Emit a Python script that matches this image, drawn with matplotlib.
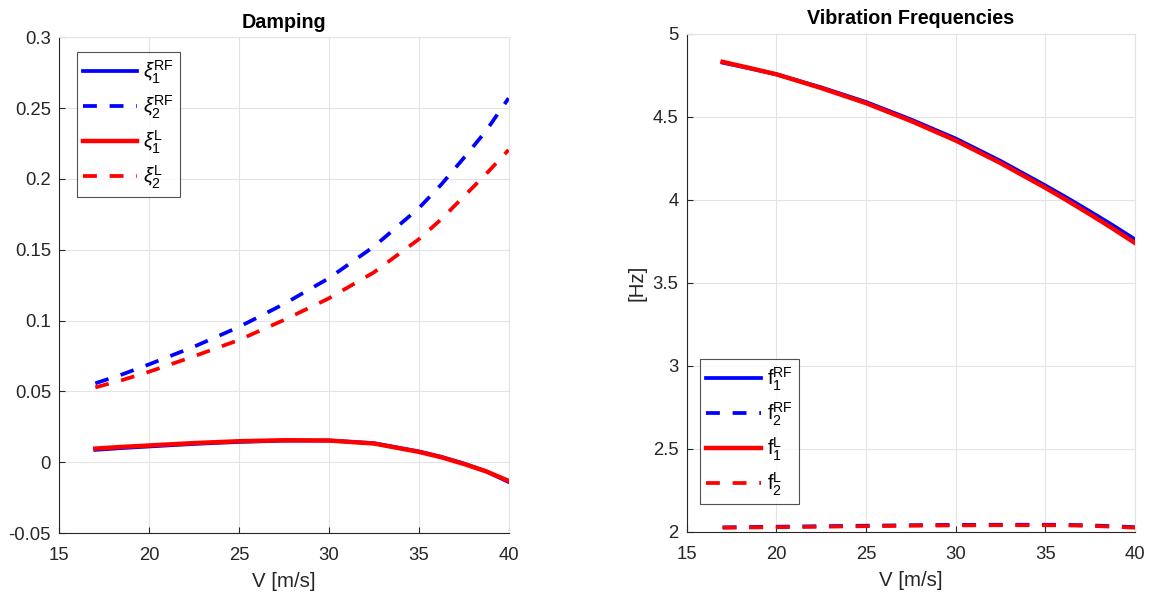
import matplotlib
matplotlib.use("Agg")
import matplotlib.pyplot as plt

plt.rcParams['font.family'] = ['Liberation Sans', 'DejaVu Sans']
plt.rcParams['mathtext.fontset'] = 'custom'
plt.rcParams['mathtext.rm'] = 'Liberation Sans'
plt.rcParams['mathtext.it'] = 'Liberation Sans:italic'

# Airspeed samples [m/s]
V = [17, 18.5, 20, 22.5, 25, 27.5, 30, 32.5, 35, 36.25, 37.5, 38.75, 40]

# Damping
xi1_RF = [0.0087, 0.0100, 0.0111, 0.0129, 0.0143, 0.0152, 0.0153, 0.0134, 0.0076, 0.0038, -0.0009, -0.0064, -0.0140]
xi2_RF = [0.0557, 0.0620, 0.0691, 0.0816, 0.0955, 0.1117, 0.1299, 0.1522, 0.1793, 0.1960, 0.2147, 0.2340, 0.2570]
xi1_L = [0.0096, 0.0108, 0.0118, 0.0135, 0.0148, 0.0155, 0.0153, 0.0132, 0.0073, 0.0035, -0.0012, -0.0065, -0.0132]
xi2_L = [0.0528, 0.0580, 0.0639, 0.0748, 0.0863, 0.1004, 0.1157, 0.1340, 0.1574, 0.1715, 0.1875, 0.2035, 0.2205]

# Frequencies [Hz]
f1_RF = [4.827, 4.793, 4.757, 4.678, 4.590, 4.485, 4.370, 4.235, 4.087, 4.010, 3.930, 3.848, 3.762]
f2_RF = [2.026, 2.028, 2.030, 2.033, 2.036, 2.039, 2.041, 2.042, 2.042, 2.041, 2.038, 2.033, 2.027]
f1_L = [4.832, 4.795, 4.757, 4.674, 4.583, 4.476, 4.358, 4.222, 4.073, 3.994, 3.912, 3.828, 3.740]
f2_L = [2.024, 2.0255, 2.027, 2.030, 2.033, 2.036, 2.038, 2.039, 2.039, 2.038, 2.035, 2.030, 2.024]

fig = plt.figure(figsize=(11.53, 5.96), dpi=100)
ax1 = fig.add_axes([0.0515, 0.1057, 0.3896, 0.8317])
ax2 = fig.add_axes([0.5956, 0.1079, 0.3888, 0.8351])

lw = 2.7
dash = (0, (3.7, 3.4))
TXT = '#262626'

def style(ax):
    ax.grid(True, color='#e3e3e3', linewidth=0.8)
    ax.set_axisbelow(True)
    for s in ['top', 'right']:
        ax.spines[s].set_color('#e3e3e3')
    for s in ['left', 'bottom']:
        ax.spines[s].set_color(TXT)
    ax.tick_params(direction='in', length=4, colors=TXT, labelsize=13.3,
                   top=False, right=False)
    ax.tick_params(axis='x', pad=10)
    ax.tick_params(axis='y', pad=6)
    ax.set_xlim(15, 40)
    ax.set_xticks([15, 20, 25, 30, 35, 40])
    ax.set_xlabel('V [m/s]', fontsize=14.7, color=TXT, labelpad=6)

def legend(ax, loc, anchor):
    leg = ax.legend(loc=loc, bbox_to_anchor=anchor, borderaxespad=0,
                    fontsize=14.5, frameon=True, fancybox=False,
                    edgecolor=TXT, handlelength=2.7, labelspacing=0.38,
                    handletextpad=0.3, borderpad=0.3)
    leg.get_frame().set_linewidth(0.8)
    return leg

ax1.plot(V, xi1_RF, color='blue', lw=lw, label=r'$\xi_1^{\mathrm{RF}}$')
ax1.plot(V, xi2_RF, color='blue', lw=lw, ls=dash, label=r'$\xi_2^{\mathrm{RF}}$')
ax1.plot(V, xi1_L, color='red', lw=lw + 0.5, label=r'$\xi_1^{\mathrm{L}}$')
ax1.plot(V, xi2_L, color='red', lw=lw, ls=dash, label=r'$\xi_2^{\mathrm{L}}$')
style(ax1)
ax1.set_ylim(-0.05, 0.3)
ax1.set_yticks([-0.05, 0, 0.05, 0.1, 0.15, 0.2, 0.25, 0.3])
ax1.set_yticklabels(['-0.05', '0', '0.05', '0.1', '0.15', '0.2', '0.25', '0.3'])
ax1.set_title('Damping', fontsize=14.2, fontweight='bold', pad=7, color='black')
legend(ax1, 'upper left', (0.039, 0.970))

ax2.plot(V, f1_RF, color='blue', lw=lw, label=r'$\mathrm{f}_1^{\mathrm{RF}}$')
ax2.plot(V, f2_RF, color='blue', lw=lw, ls=dash, label=r'$\mathrm{f}_2^{\mathrm{RF}}$')
ax2.plot(V, f1_L, color='red', lw=lw + 0.5, label=r'$\mathrm{f}_1^{\mathrm{L}}$')
ax2.plot(V, f2_L, color='red', lw=lw, ls=dash, label=r'$\mathrm{f}_2^{\mathrm{L}}$')
style(ax2)
ax2.set_ylim(2, 5)
ax2.set_yticks([2, 2.5, 3, 3.5, 4, 4.5, 5])
ax2.set_yticklabels(['2', '2.5', '3', '3.5', '4', '4.5', '5'])
ax2.set_ylabel('[Hz]', fontsize=14.7, color=TXT, labelpad=4)
ax2.set_title('Vibration Frequencies', fontsize=14.2, fontweight='bold', pad=7, color='black')
legend(ax2, 'lower left', (0.030, 0.056))

fig.savefig('out.png', dpi=100)
